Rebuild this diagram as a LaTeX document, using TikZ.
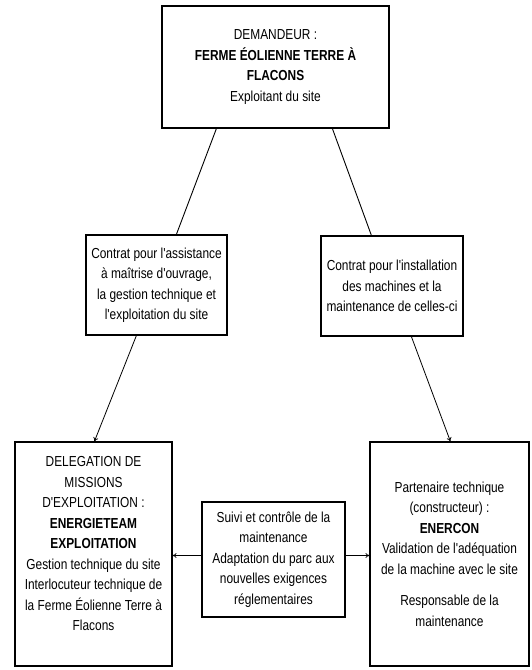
\documentclass[tikz,border=0pt]{standalone}
\usepackage{fontspec}
\setmainfont{Liberation Sans}[FakeStretch=0.82, Ligatures=TeXOff]
\usetikzlibrary{arrows.meta}

\begin{document}
\begin{tikzpicture}[x=1pt, y=-1pt,
    boite/.style={draw, line width=1.2pt, align=center, inner sep=0pt,
        font=\fontsize{14.5}{20.5}\selectfont},
    lien/.style={line width=0.9pt},
    fleche/.style={line width=0.8pt, -{To[length=4pt,width=5pt]}}]
        \useasboundingbox (0,0) rectangle (531,670);

        % le demandeur
        \node[boite, minimum width=227pt, minimum height=122pt] (dem) at (275.5,67)
        {DEMANDEUR :\\ \textbf{FERME ÉOLIENNE TERRE À}\\ \textbf{FLACONS}\\ Exploitant du site};

        % dessin des contrats
        \node[boite, minimum width=141pt, minimum height=100pt] (contratA) at (156.5,285)
        {Contrat pour l'assistance\\ à maîtrise d'ouvrage,\\ la gestion technique et\\ l'exploitation du site};
        \node[boite, minimum width=142pt, minimum height=100pt] (contratB) at (392,286)
        {Contrat pour l'installation\\ des machines et la\\ maintenance de celles-ci};

        % dessin des intervenants
        \node[boite, minimum width=157pt, minimum height=224pt] (deleg) at (93.5,554)
        {DELEGATION DE\\ MISSIONS\\ D'EXPLOITATION :\\ \textbf{ENERGIETEAM}\\ \textbf{EXPLOITATION}\\
         Gestion technique du site\\ Interlocuteur technique de\\ la Ferme Éolienne Terre à\\ Flacons\\ \mbox{}};
        \node[boite, minimum width=143pt, minimum height=115pt] (suivi) at (273.5,559.5)
        {Suivi et contrôle de la\\ maintenance\\ Adaptation du parc aux\\ nouvelles exigences\\ réglementaires};
        \node[boite, minimum width=159pt, minimum height=224pt] (enercon) at (449.5,554)
        {Partenaire technique\\ (constructeur) :\\ \textbf{ENERCON}\\ Validation de l'adéquation\\
         de la machine avec le site\\[11pt] Responsable de la\\ maintenance};

        % liens du demandeur vers les contrats
        \draw[lien] ([xshift=55pt]dem.south west) -- ([xshift=91pt]contratA.north west);
        \draw[lien] ([xshift=171pt]dem.south west) -- ([xshift=51pt]contratB.north west);

        % liens des contrats vers les intervenants
        \draw[fleche] ([xshift=51pt]contratA.south west) -- ([xshift=80pt]deleg.north west);
        \draw[fleche] ([xshift=91pt]contratB.south west) -- ([xshift=81pt]enercon.north west);

        % suivi de la maintenance
        \draw[fleche] ([yshift=4pt]suivi.west) -- ([yshift=4pt]suivi.west -| deleg.east);
        \draw[fleche] ([yshift=4pt]suivi.east) -- ([yshift=4pt]suivi.east -| enercon.west);
    \end{tikzpicture}
\end{document}
